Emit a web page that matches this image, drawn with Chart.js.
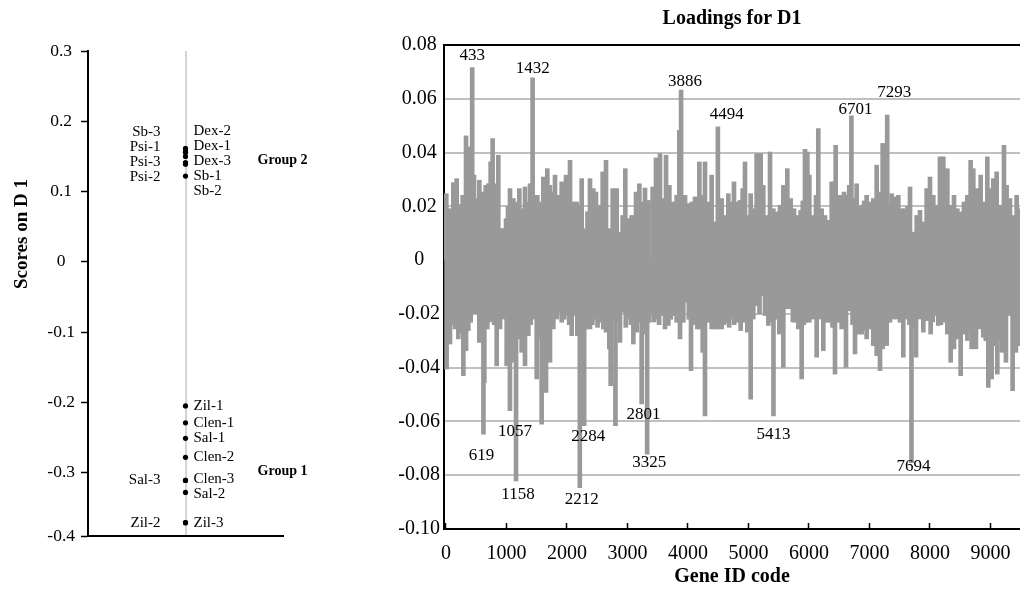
<!DOCTYPE html>
<html>
<head>
<meta charset="utf-8">
<title>Scores and loadings on D1</title>
<script src="https://cdn.jsdelivr.net/npm/chart.js@4.4.1/dist/chart.umd.min.js"></script>
<style>
  html, body { margin: 0; padding: 0; background: #fff; }
  #wrap { position: relative; width: 1020px; height: 597px; }
  #scoresBox { position: absolute; left: 0; top: 0; width: 330px; height: 597px; }
  #loadingsBox { position: absolute; left: 330px; top: 0; width: 690px; height: 597px; }
</style>
</head>
<body>
<div id="wrap">
  <div id="scoresBox"><canvas id="scoresChart"></canvas></div>
  <div id="loadingsBox"><canvas id="loadingsChart"></canvas></div>
</div>
<script>
// Образцы и их значения на D1
const sampleNames = ['Dex-2', 'Sb-3', 'Dex-1', 'Psi-1', 'Psi-3', 'Dex-3', 'Psi-2', 'Sb-1', 'Sb-2',
                     'Zil-1', 'Clen-1', 'Sal-1', 'Clen-2', 'Clen-3', 'Sal-3', 'Sal-2', 'Zil-3', 'Zil-2'];
const sampleGroups = [2, 2, 2, 2, 2, 2, 2, 2, 2, 1, 1, 1, 1, 1, 1, 1, 1, 1];
const scoresD1 = [0.161, 0.161, 0.156, 0.156, 0.150, 0.141, 0.141, 0.139, 0.122,
                  -0.205, -0.229, -0.251, -0.278, -0.311, -0.311, -0.328, -0.371, -0.371];
const groupNames = ['Group 1', 'Group 2'];
const scoreTicks = [-0.3, -0.2, -0.1, 0, 0.1, 0.2, 0.3];

// Нагрузки генов на D1 (положительные и отрицательные выбросы)
const posGenes = [
    5, 66, 121, 176, 231, 276, 331, 364, 433, 463,
    507, 551, 601, 656, 700, 738, 771, 810, 865, 909,
    948, 992, 1025, 1058, 1113, 1168, 1212, 1251, 1306, 1344, 1389,
    1432, 1460, 1510, 1554, 1609, 1675, 1719, 1774, 1802, 1857,
    1912, 1948, 1984, 2050, 2105, 2160, 2190, 2243, 2298, 2339, 2380, 2435,
    2479, 2546, 2590, 2645, 2711, 2755, 2821, 2876, 2920, 2964,
    3030, 3069, 3141, 3196, 3234, 3289, 3345, 3416, 3471, 3510,
    3537, 3593, 3637, 3692, 3758, 3813, 3857, 3886, 3951, 4006,
    4061, 4116, 4152, 4188, 4226, 4281, 4336, 4391, 4447, 4494, 4557,
    4612, 4667, 4722, 4760, 4805, 4860, 4904, 4942, 4997, 5036,
    5080, 5135, 5168, 5201, 5245, 5300, 5356, 5411, 5466, 5521,
    5576, 5642, 5697, 5752, 5807, 5862, 5898, 5934, 5973, 6006, 6072,
    6116, 6154, 6210, 6265, 6320, 6375, 6441, 6477, 6513, 6579, 6634,
    6665, 6701, 6745, 6788, 6830, 6871, 6912, 6953, 7008, 7063, 7119, 7174, 7218,
    7256, 7293, 7330, 7366, 7422, 7477, 7532, 7587, 7628, 7670, 7725, 7780,
    7835, 7890, 7945, 8000, 8055, 8121, 8165, 8221, 8287, 8342,
    8397, 8452, 8496, 8562, 8617, 8672, 8716, 8772, 8838, 8893,
    8948, 9003, 9047, 9102, 9168, 9223, 9267, 9322, 9378, 9433,
    9477
];
const posLoadings = [
    0.0247, 0.0191, 0.0288, 0.0303, 0.0207, 0.0241, 0.0462, 0.0421, 0.0716, 0.0316,
    0.0229, 0.0297, 0.0253, 0.0278, 0.0284, 0.0365, 0.0452, 0.0284, 0.0390, 0.0117,
    0.0117, 0.0154, 0.0200, 0.0266, 0.0229, 0.0216, 0.0266, 0.0191, 0.0272, 0.0216, 0.0284,
    0.0678, 0.0241, 0.0241, 0.0216, 0.0309, 0.0340, 0.0278, 0.0253, 0.0316, 0.0241,
    0.0291, 0.0220, 0.0316, 0.0371, 0.0216, 0.0216, 0.0204, 0.0303, 0.0117, 0.0180, 0.0303, 0.0266,
    0.0253, 0.0204, 0.0328, 0.0371, 0.0117, 0.0266, 0.0266, 0.0104, 0.0166, 0.0340,
    0.0154, 0.0166, 0.0253, 0.0284, 0.0216, 0.0268, 0.0222, 0.0272, 0.0380, 0.0291,
    0.0396, 0.0229, 0.0390, 0.0278, 0.0216, 0.0241, 0.0483, 0.0632, 0.0241, 0.0210,
    0.0216, 0.0235, 0.0200, 0.0365, 0.0241, 0.0365, 0.0216, 0.0316, 0.0142, 0.0496, 0.0229,
    0.0166, 0.0247, 0.0216, 0.0291, 0.0216, 0.0222, 0.0266, 0.0365, 0.0166, 0.0247,
    0.0191, 0.0396, 0.0266, 0.0396, 0.0278, 0.0166, 0.0402, 0.0191, 0.0179, 0.0204,
    0.0278, 0.0340, 0.0229, 0.0191, 0.0166, 0.0185, 0.0220, 0.0412, 0.0402, 0.0316, 0.0166,
    0.0241, 0.0489, 0.0191, 0.0166, 0.0148, 0.0291, 0.0427, 0.0210, 0.0241, 0.0253, 0.0241,
    0.0278, 0.0537, 0.0230, 0.0284, 0.0200, 0.0204, 0.0220, 0.0241, 0.0216, 0.0229, 0.0353, 0.0253, 0.0434,
    0.0229, 0.0539, 0.0200, 0.0247, 0.0235, 0.0241, 0.0191, 0.0191, 0.0200, 0.0272, 0.0104, 0.0166,
    0.0185, 0.0142, 0.0266, 0.0309, 0.0241, 0.0204, 0.0384, 0.0384, 0.0340, 0.0204,
    0.0241, 0.0191, 0.0179, 0.0216, 0.0241, 0.0371, 0.0340, 0.0266, 0.0316, 0.0216,
    0.0384, 0.0266, 0.0303, 0.0328, 0.0204, 0.0427, 0.0278, 0.0229, 0.0166, 0.0241,
    0.0191
];
const negGenes = [
    10, 66, 108, 149, 204, 245, 287, 331, 369, 408,
    452, 485, 518, 551, 585, 619, 634, 683, 720, 755, 797,
    838, 893, 948, 1003, 1057, 1085, 1120, 1158, 1196, 1251,
    1306, 1361, 1400, 1444, 1499, 1543, 1581, 1620, 1653, 1686, 1719,
    1774, 1829, 1873, 1912, 1953, 1995, 2036, 2077, 2132, 2171,
    2212, 2243, 2284, 2325, 2380, 2420, 2463, 2505, 2546, 2601,
    2645, 2700, 2722, 2766, 2801, 2838, 2876, 2931, 2972, 3014,
    3056, 3097, 3152, 3196, 3234, 3273, 3325, 3361, 3400, 3441,
    3482, 3523, 3565, 3620, 3675, 3716, 3758, 3813, 3868, 3923,
    3978, 4014, 4050, 4083, 4116, 4155, 4199, 4243, 4281, 4336, 4391,
    4447, 4502, 4557, 4598, 4639, 4680, 4722, 4763, 4805, 4871,
    4915, 4981, 5036, 5080, 5146, 5182, 5218, 5273, 5328, 5370,
    5413, 5438, 5474, 5510, 5576, 5631, 5697, 5733, 5769, 5824,
    5879, 5915, 5951, 6006, 6061, 6127, 6182, 6237, 6292, 6347,
    6388, 6430, 6466, 6502, 6540, 6576, 6612, 6678, 6720, 6761,
    6797, 6832, 6871, 6912, 6953, 7008, 7063, 7119, 7174, 7218,
    7284, 7339, 7394, 7449, 7504, 7559, 7625, 7660, 7694, 7731,
    7769, 7835, 7890, 7945, 8011, 8047, 8083, 8138, 8180, 8221, 8287,
    8342, 8397, 8452, 8507, 8562, 8617, 8653, 8689, 8725, 8760,
    8827, 8882, 8923, 8964, 9019, 9075, 9113, 9149, 9185, 9220,
    9256, 9311, 9366, 9421, 9477
];
const negLoadings = [
    -0.0405, -0.0312, -0.0240, -0.0256, -0.0293, -0.0270, -0.0430, -0.0337, -0.0262, -0.0231,
    -0.0169, -0.0200, -0.0175, -0.0306, -0.0260, -0.0647, -0.0455, -0.0256, -0.0230, -0.0219, -0.0240,
    -0.0393, -0.0256, -0.0219, -0.0393, -0.0560, -0.0380, -0.0300, -0.0821, -0.0293, -0.0343,
    -0.0393, -0.0281, -0.0240, -0.0219, -0.0442, -0.0293, -0.0610, -0.0330, -0.0492, -0.0280, -0.0380,
    -0.0256, -0.0219, -0.0194, -0.0231, -0.0220, -0.0206, -0.0240, -0.0281, -0.0206, -0.0281,
    -0.0846, -0.0393, -0.0616, -0.0256, -0.0256, -0.0240, -0.0219, -0.0250, -0.0231, -0.0256,
    -0.0268, -0.0330, -0.0467, -0.0219, -0.0616, -0.0230, -0.0306, -0.0194, -0.0250, -0.0219,
    -0.0240, -0.0312, -0.0268, -0.0231, -0.0535, -0.0275, -0.0722, -0.0231, -0.0206, -0.0230,
    -0.0219, -0.0240, -0.0206, -0.0256, -0.0243, -0.0220, -0.0206, -0.0231, -0.0293, -0.0231,
    -0.0157, -0.0220, -0.0411, -0.0240, -0.0231, -0.0256, -0.0256, -0.0343, -0.0579, -0.0231, -0.0256,
    -0.0256, -0.0256, -0.0256, -0.0240, -0.0231, -0.0250, -0.0219, -0.0240, -0.0231, -0.0262,
    -0.0231, -0.0268, -0.0517, -0.0219, -0.0169, -0.0200, -0.0132, -0.0206, -0.0243, -0.0230,
    -0.0579, -0.0181, -0.0220, -0.0275, -0.0399, -0.0181, -0.0181, -0.0230, -0.0231, -0.0256,
    -0.0442, -0.0240, -0.0231, -0.0231, -0.0219, -0.0361, -0.0219, -0.0337, -0.0231, -0.0231,
    -0.0250, -0.0424, -0.0230, -0.0231, -0.0256, -0.0220, -0.0399, -0.0188, -0.0240, -0.0349,
    -0.0230, -0.0275, -0.0275, -0.0260, -0.0293, -0.0256, -0.0318, -0.0355, -0.0411, -0.0330,
    -0.0318, -0.0231, -0.0219, -0.0219, -0.0231, -0.0361, -0.0219, -0.0240, -0.0753, -0.0250,
    -0.0361, -0.0219, -0.0268, -0.0225, -0.0275, -0.0230, -0.0206, -0.0243, -0.0240, -0.0231, -0.0275,
    -0.0380, -0.0330, -0.0293, -0.0430, -0.0275, -0.0299, -0.0260, -0.0330, -0.0280, -0.0330,
    -0.0256, -0.0287, -0.0300, -0.0473, -0.0442, -0.0318, -0.0424, -0.0300, -0.0343, -0.0310,
    -0.0380, -0.0206, -0.0486, -0.0343, -0.0318
];
// Подписанные гены
const labeledGenes = [433, 619, 1057, 1158, 1432, 2212, 2284, 2801, 3325, 3886, 4494, 5413, 6701, 7293, 7694];
const geneTicks = [0, 1000, 2000, 3000, 4000, 5000, 6000, 7000, 8000, 9000];

// Сдвиг подписей относительно конца столбца, px
const peakLabelOffset = {
    433: [0, -12], 1432: [0, -9], 3886: [4, -9], 4494: [9, -12], 6701: [4, -6], 7293: [7, -23],
    619: [-2, 21], 1057: [5, 21], 1158: [2, 14], 2212: [2, 12], 2284: [4, 11],
    2801: [28, -11], 3325: [2, 8], 5413: [0, 19], 7694: [2, 4]
};
const leftSideLabels = ['Sb-3', 'Psi-1', 'Psi-3', 'Psi-2', 'Sal-3', 'Zil-2'];
const SERIF = '"Liberation Serif", "Times New Roman", serif';

document.addEventListener('DOMContentLoaded', () => {
    Chart.defaults.font.family = SERIF;
    Chart.defaults.color = '#000';
    initializeCharts();
});

function initializeCharts() {
    drawScoresChart();
    drawLoadingsChart();
}

// Раздвигаем подписи, чтобы не налезали друг на друга
function spreadLabels(items, gap) {
    let clusters = items.map(it => ({ items: [it], center: it.y }));
    let merged = true;
    while (merged) {
        merged = false;
        for (let i = 0; i < clusters.length - 1; i++) {
            const a = clusters[i], b = clusters[i + 1];
            const aBottom = a.center + (a.items.length - 1) * gap / 2;
            const bTop = b.center - (b.items.length - 1) * gap / 2;
            if (bTop - aBottom < gap) {
                const all = a.items.concat(b.items);
                const center = all.reduce((s, it) => s + it.y, 0) / all.length;
                clusters.splice(i, 2, { items: all, center: center });
                merged = true;
                break;
            }
        }
    }
    clusters.forEach(c => c.items.forEach((it, k) => {
        it.ly = c.center + (k - (c.items.length - 1) / 2) * gap;
    }));
}

const sampleLabelsPlugin = {
    id: 'sampleLabels',
    afterDatasetsDraw(chart) {
        const ctx = chart.ctx;
        const xs = chart.scales.x, ys = chart.scales.y;
        const x0 = xs.getPixelForValue(0);
        ctx.save();
        ctx.fillStyle = '#000';
        ctx.textBaseline = 'middle';
        ctx.font = '15px ' + SERIF;
        ['left', 'right'].forEach(side => {
            [1, 2].forEach(group => {
                const items = sampleNames
                    .map((name, i) => ({ name: name, i: i }))
                    .filter(o => sampleGroups[o.i] === group &&
                        (leftSideLabels.includes(o.name) ? 'left' : 'right') === side)
                    .map(o => ({ name: o.name, y: ys.getPixelForValue(scoresD1[o.i]) }))
                    .sort((a, b) => a.y - b.y);
                spreadLabels(items, 15);
                ctx.textAlign = side === 'left' ? 'right' : 'left';
                const tx = side === 'left' ? x0 - 25 : x0 + 8;
                items.forEach(it => ctx.fillText(it.name, tx, it.ly));
            });
        });

        // Подписи групп
        ctx.font = 'bold 14px ' + SERIF;
        ctx.textAlign = 'center';
        groupNames.forEach((g, gi) => {
            const vals = scoresD1.filter((v, i) => sampleGroups[i] === gi + 1);
            const mean = vals.reduce((a, b) => a + b, 0) / vals.length;
            ctx.fillText(g, x0 + 97, ys.getPixelForValue(mean) + 2);
        });

        // Заголовок оси Y
        ctx.translate(22, 234);
        ctx.rotate(-Math.PI / 2);
        ctx.font = 'bold 19px ' + SERIF;
        ctx.fillText('Scores on D 1', 0, 0);
        ctx.restore();
    }
};

// График значений образцов на D1
function drawScoresChart() {
    const ctx = document.getElementById('scoresChart').getContext('2d');
    new Chart(ctx, {
        type: 'scatter',
        data: {
            datasets: [{
                label: 'Scores on D 1',
                data: scoresD1.map(v => ({ x: 0, y: v })),
                pointRadius: 2.6,
                pointBackgroundColor: '#000',
                pointBorderWidth: 0
            }]
        },
        options: {
            responsive: true,
            maintainAspectRatio: false,
            animation: false,
            layout: { padding: { top: 51, right: 47, bottom: 61, left: 0 } },
            plugins: { legend: { display: false }, tooltip: { enabled: false } },
            scales: {
                x: {
                    type: 'linear',
                    min: -1,
                    max: 1,
                    afterBuildTicks: s => { s.ticks = [{ value: 0 }]; },
                    afterFit: s => { s.height = 0; },
                    ticks: { display: false },
                    grid: { color: '#d4d4d4', lineWidth: 2, drawTicks: false },
                    border: { color: '#000', width: 2 }
                },
                y: {
                    min: -0.39,
                    max: 0.3,
                    afterBuildTicks: s => { s.ticks = [s.min].concat(scoreTicks).map(v => ({ value: v })); },
                    afterFit: s => { s.width = 88; },
                    ticks: {
                        autoSkip: false,
                        crossAlign: 'center',
                        padding: 6,
                        font: { size: 17.5 },
                        callback: v => String(Number(v.toFixed(1)))
                    },
                    grid: { drawOnChartArea: false, drawTicks: true, tickLength: 7, tickColor: '#000', tickWidth: 1.5 },
                    border: { color: '#000', width: 2 }
                }
            }
        },
        plugins: [sampleLabelsPlugin]
    });
}

const peakLabelsPlugin = {
    id: 'peakLabels',
    afterDatasetsDraw(chart) {
        const ctx = chart.ctx;
        const meta = chart.getDatasetMeta(0);
        const points = chart.data.datasets[0].data;
        ctx.save();
        ctx.font = '17px ' + SERIF;
        ctx.fillStyle = '#000';
        ctx.textAlign = 'center';
        ctx.textBaseline = 'middle';
        meta.data.forEach((bar, i) => {
            const gene = points[i].x;
            if (!labeledGenes.includes(gene)) return;
            const off = peakLabelOffset[gene] || [0, 0];
            ctx.fillText(String(gene), bar.x + off[0], bar.y + off[1]);
        });
        ctx.restore();
    }
};

// Горизонтальная сетка: верхняя линия — рамка, нулевой линии нет
function isTick(c, v) {
    return c.tick && Math.abs(c.tick.value - v) < 1e-9;
}
function gridColor(c) {
    if (isTick(c, 0.08)) return '#000';
    if (isTick(c, 0)) return 'rgba(0,0,0,0)';
    return '#c0c0c0';
}
function gridWidth(c) {
    return isTick(c, 0) ? 0 : 2;
}

// График нагрузок генов
function drawLoadingsChart() {
    const points = posGenes.map((g, i) => ({ x: g, y: posLoadings[i] }))
        .concat(negGenes.map((g, i) => ({ x: g, y: negLoadings[i] })));
    const ctx = document.getElementById('loadingsChart').getContext('2d');
    new Chart(ctx, {
        type: 'bar',
        data: {
            datasets: [{
                label: 'Loadings for D1',
                data: points,
                backgroundColor: '#999999',
                borderWidth: 0,
                barThickness: 4
            }]
        },
        options: {
            responsive: true,
            maintainAspectRatio: false,
            animation: false,
            layout: { padding: 0 },
            plugins: {
                legend: { display: false },
                tooltip: { enabled: false },
                title: {
                    display: true,
                    text: 'Loadings for D1',
                    fullSize: false,
                    font: { size: 20, weight: 'bold' },
                    color: '#000',
                    padding: { top: 7, bottom: 14 }
                }
            },
            scales: {
                x: {
                    type: 'linear',
                    min: -33,
                    max: 9488,
                    offset: false,
                    afterBuildTicks: s => { s.ticks = geneTicks.map(v => ({ value: v })); },
                    afterFit: s => { s.height = 68; s.paddingLeft = 0; s.paddingRight = 0; },
                    ticks: { autoSkip: false, maxRotation: 0, padding: 19, font: { size: 20 }, callback: v => String(v) },
                    grid: { offset: false, drawOnChartArea: false, drawTicks: true, tickLength: -6, tickColor: '#000', tickWidth: 1.5 },
                    border: { color: '#000', width: 2 },
                    title: {
                        display: true,
                        text: 'Gene ID code',
                        font: { size: 20, weight: 'bold' },
                        color: '#000',
                        padding: { top: 0, bottom: 8 }
                    }
                },
                y: {
                    min: -0.1,
                    max: 0.08,
                    afterFit: s => { s.width = 114; },
                    ticks: { stepSize: 0.02, crossAlign: 'center', padding: 4, font: { size: 20 } },
                    grid: { color: gridColor, lineWidth: gridWidth, drawTicks: false },
                    border: { color: '#000', width: 2 }
                }
            }
        },
        plugins: [peakLabelsPlugin]
    });
}
</script>
</body>
</html>
